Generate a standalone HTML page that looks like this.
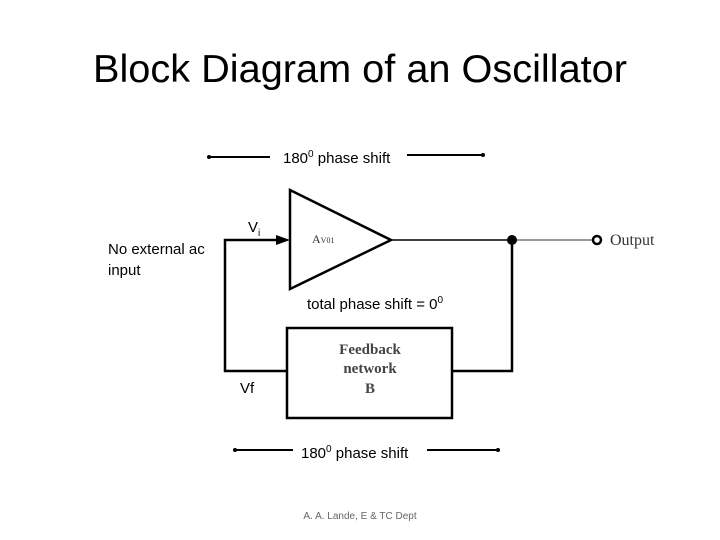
<!DOCTYPE html>
<html><head><style>
body{margin:0;width:720px;height:540px;background:#fff;overflow:hidden;font-family:"Liberation Sans",sans-serif}
svg{position:absolute;left:0;top:0}
</style></head><body>
<svg width="720" height="540" viewBox="0 0 720 540">
<text x="360" y="82" font-size="39" text-anchor="middle" textLength="534" lengthAdjust="spacingAndGlyphs" fill="#000">Block Diagram of an Oscillator</text>
<!-- top arrows -->
<line x1="210" y1="157" x2="270" y2="157" stroke="#000" stroke-width="2"/>
<circle cx="209" cy="157" r="2" fill="#000"/>
<line x1="407" y1="155" x2="482" y2="155" stroke="#000" stroke-width="2"/>
<circle cx="483" cy="155" r="2" fill="#000"/>
<text x="283" y="163" font-size="15" fill="#000">180<tspan dy="-6" font-size="10">0</tspan><tspan dy="6"> phase shift</tspan></text>
<!-- amplifier -->
<polygon points="290,190 391,240 290,289" fill="#fff" stroke="#000" stroke-width="2.5"/>
<text x="312" y="243" font-family="Liberation Serif,serif" font-size="12" fill="#333">A<tspan font-size="8">V01</tspan></text>
<text x="248" y="232" font-size="15" fill="#000">V<tspan font-size="10" dy="4">i</tspan></text>
<!-- loop lines -->
<polyline points="287,371 225,371 225,240 278,240" fill="none" stroke="#000" stroke-width="2.5"/>
<polygon points="290,240 276,235 276,245" fill="#000"/>
<line x1="391" y1="240" x2="512" y2="240" stroke="#000" stroke-width="1.5"/>
<line x1="512" y1="240" x2="592" y2="240" stroke="#777" stroke-width="1.5"/>
<circle cx="512" cy="240" r="5" fill="#000"/>
<circle cx="597" cy="240" r="4" fill="#fff" stroke="#000" stroke-width="2.5"/>
<text x="610" y="245" font-family="Liberation Serif,serif" font-size="16" fill="#333">Output</text>
<polyline points="452,371 512,371 512,240" fill="none" stroke="#000" stroke-width="2.5"/>
<!-- feedback box -->
<rect x="287" y="328" width="165" height="90" fill="#fff" stroke="#000" stroke-width="2.5"/>
<text x="370" y="354" font-family="Liberation Serif,serif" font-weight="bold" font-size="15" fill="#444" text-anchor="middle">Feedback</text>
<text x="370" y="373" font-family="Liberation Serif,serif" font-weight="bold" font-size="15" fill="#444" text-anchor="middle">network</text>
<text x="370" y="393" font-family="Liberation Serif,serif" font-weight="bold" font-size="15" fill="#444" text-anchor="middle">B</text>
<text x="240" y="393" font-size="15" fill="#000">Vf</text>
<text x="108" y="254" font-size="15" fill="#000">No external ac</text>
<text x="108" y="275" font-size="15" fill="#000">input</text>
<text x="307" y="309" font-size="15" fill="#000">total phase shift = 0<tspan dy="-6" font-size="10">0</tspan></text>
<!-- bottom arrows -->
<line x1="236" y1="450" x2="293" y2="450" stroke="#000" stroke-width="2"/>
<circle cx="235" cy="450" r="2" fill="#000"/>
<line x1="427" y1="450" x2="497" y2="450" stroke="#000" stroke-width="2"/>
<circle cx="498" cy="450" r="2" fill="#000"/>
<text x="301" y="458" font-size="15" fill="#000">180<tspan dy="-6" font-size="10">0</tspan><tspan dy="6"> phase shift</tspan></text>
<text x="360" y="519" font-size="10" fill="#666" text-anchor="middle">A. A. Lande, E &amp; TC Dept</text>
</svg>
</body></html>
